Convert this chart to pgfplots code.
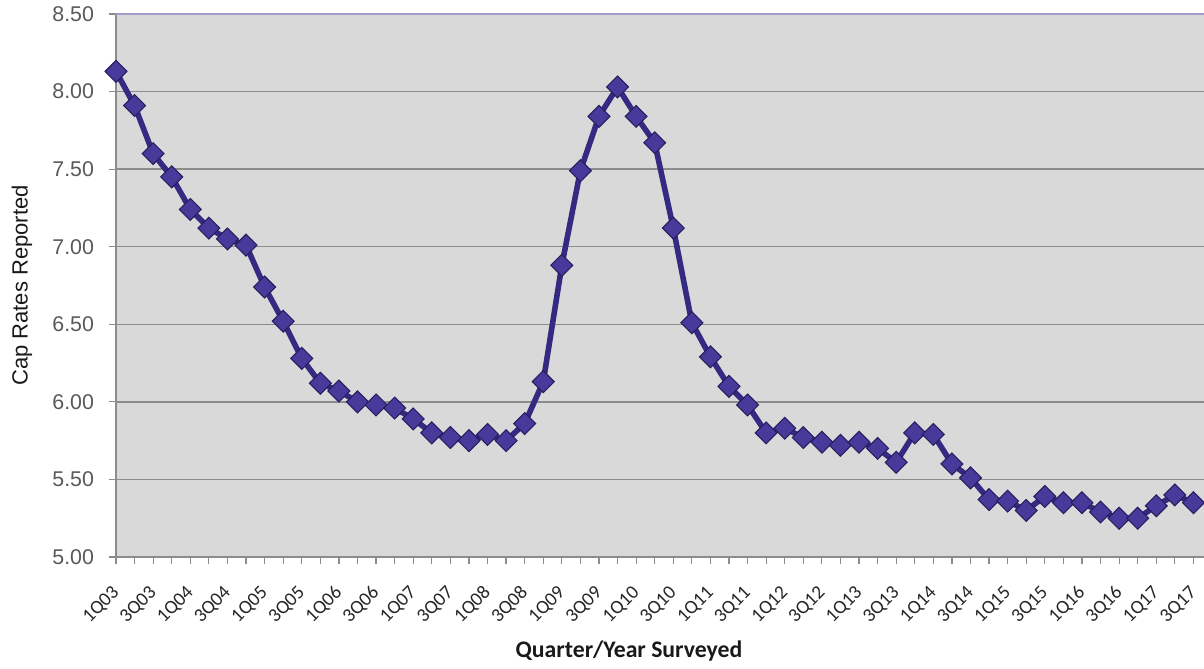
\documentclass[border=0pt]{standalone}
\usepackage{pgfplots}
\pgfplotsset{compat=1.18}
\usepackage{fontspec}
\setmainfont{Liberation Sans}
\newfontfamily\carlito{Carlito}
\definecolor{bg}{RGB}{217,217,217}
\definecolor{gridc}{RGB}{140,140,140}
\definecolor{linec}{RGB}{52,42,130}
\definecolor{markc}{RGB}{72,58,155}
\definecolor{markd}{RGB}{38,30,95}
\definecolor{topc}{RGB}{160,156,200}
\definecolor{tickc}{RGB}{89,89,89}
\begin{document}
\begin{tikzpicture}
\begin{axis}[
  name=ax,
  scale only axis,
  width=816pt, height=407.25pt,
  xmin=0, xmax=58.57,
  ymin=5, ymax=8.5,
  axis x line*=bottom, axis y line*=left,
  axis line style={gridc, line width=1.2pt},
  axis background/.style={fill=bg},
  ytick={5,5.5,...,8.5},
  ymajorgrids,
  major grid style={gridc, line width=1.1pt},
  xtick={0,2,...,58},
  minor xtick={1,3,...,57},
  xticklabels={1Q03,3Q03,1Q04,3Q04,1Q05,3Q05,1Q06,3Q06,1Q07,3Q07,1Q08,3Q08,1Q09,3Q09,1Q10,3Q10,1Q11,3Q11,1Q12,3Q12,1Q13,3Q13,1Q14,3Q14,1Q15,3Q15,1Q16,3Q16,1Q17,3Q17},
  tick align=outside,
  major tick length=5pt, minor tick length=5pt,
  tick style={gridc, line width=0.9pt},
  every minor tick/.style={gridc, line width=0.9pt},
  /pgf/number format/assume math mode=true,
  yticklabel style={/pgf/number format/.cd, fixed, fixed zerofill, precision=2, /tikz/.cd, font=\fontsize{16}{19}\selectfont, text=tickc, xshift=-8pt},
  xticklabel style={xshift=4.5pt, yshift=-24pt, font=\carlito\fontsize{14.5}{17}\selectfont, rotate=45, anchor=south east, inner sep=0pt, text=black!85},
  xlabel={\carlito\bfseries Quarter/Year Surveyed},
  xlabel style={at={(rel axis cs:0.4715,0)}, anchor=center, yshift=-70.5pt, font=\fontsize{17.8}{21}\selectfont, text=black!90},
  ylabel={Cap Rates Reported},
  ylabel style={at={(rel axis cs:0,0.5)}, anchor=center, yshift=70.5pt, font=\fontsize{16.5}{19}\selectfont, text=black!90},
  clip=false,
]
\draw[topc, line width=1pt] (axis cs:0,8.5) -- (axis cs:58.57,8.5);
\addplot[linec, line width=4.2pt, mark=square*, mark size=5.8pt,
  mark options={rotate=45, fill=markc, draw=markd, line width=0.8pt}]
  coordinates {
(0,8.13)(1,7.91)(2,7.60)(3,7.45)(4,7.24)(5,7.12)(6,7.05)(7,7.01)(8,6.74)(9,6.52)
(10,6.28)(11,6.12)(12,6.07)(13,6.00)(14,5.98)(15,5.96)(16,5.89)(17,5.80)(18,5.77)(19,5.75)
(20,5.79)(21,5.75)(22,5.86)(23,6.13)(24,6.88)(25,7.49)(26,7.84)(27,8.03)(28,7.84)(29,7.67)
(30,7.12)(31,6.51)(32,6.29)(33,6.10)(34,5.98)(35,5.80)(36,5.83)(37,5.77)(38,5.74)(39,5.72)
(40,5.74)(41,5.70)(42,5.61)(43,5.80)(44,5.79)(45,5.60)(46,5.51)(47,5.37)(48,5.36)(49,5.30)
(50,5.39)(51,5.35)(52,5.35)(53,5.29)(54,5.25)(55,5.25)(56,5.33)(57,5.40)(58,5.35)
  };
\end{axis}
\pgfresetboundingbox
\path[use as bounding box] ([shift={(-87pt,-84pt)}]ax.south west) rectangle ([shift={(0pt,10.5pt)}]ax.north east);
\end{tikzpicture}
\end{document}
